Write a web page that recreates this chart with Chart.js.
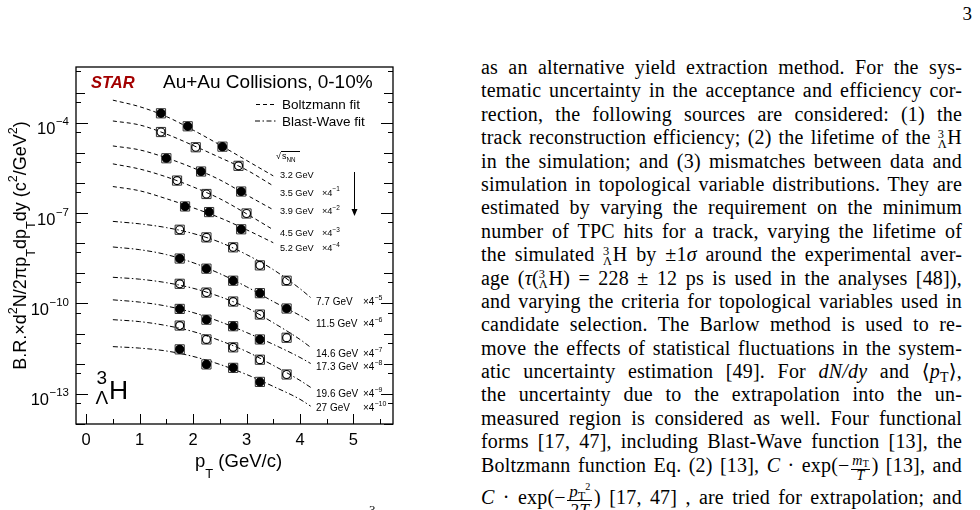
<!DOCTYPE html>
<html>
<head>
<meta charset="utf-8">
<title>Hypertriton pT spectra</title>
<script src="https://cdn.jsdelivr.net/npm/chart.js@4.4.1/dist/chart.umd.min.js"></script>
<style>
  html, body { margin: 0; padding: 0; background: #fff; }
  body { width: 980px; height: 510px; overflow: hidden; position: relative; color: #000; }
  #plot { position: absolute; left: 0; top: 0; }
  .serif { font-family: "Liberation Serif", "DejaVu Serif", serif; }
  #pageno { position: absolute; left: 932px; width: 40px; top: 4px; text-align: right; font-size: 19px; line-height: 19px; }
  #capno { position: absolute; left: 369px; top: 503px; font-size: 13px; line-height: 13px; }
  #col { position: absolute; left: 481px; top: 56px; width: 481px; font-size: 20px; line-height: 23.4px; letter-spacing: 0.2px; }
  #col .ln { height: 23.4px; text-align: justify; text-align-last: justify; }
  #col sub { font-size: 0.7em; vertical-align: -0.25em; line-height: 0; }
  .ss { display: inline-block; font-size: 0.62em; line-height: 0.82em; vertical-align: -0.32em; text-align: center; margin-right: 0.04em; }
  .fr { display: inline-flex; flex-direction: column; align-items: center; font-size: 0.7em; line-height: 0.75; vertical-align: 0.45em; margin: 0 0.1em; }
  .fr .nu { border-bottom: 1px solid #000; padding: 0 0.1em 0.12em; }
  .fr .de { padding-top: 0.12em; }
</style>
</head>
<body>
<canvas id="plot" width="440" height="510"></canvas>
<div id="pageno" class="serif">3</div>
<div id="capno" class="serif">3</div>
<div id="col" class="serif"></div>

<script>
// pT bins (GeV/c) of the measured points
const pt32 = [1.4, 1.9, 2.55];
const pt35 = [1.4, 2.05, 2.85];
const pt39 = [1.5, 2.15, 2.9];
const pt45 = [1.7, 2.25, 3.0];
const pt52 = [1.85, 2.3, 2.9];
const ptBW = [1.75, 2.25, 2.75, 3.25, 3.75];

// B.R. x d2N/(2pi pT dpT dy), already multiplied by 4^-n
const y32 = [2.05e-4, 7.6e-5, 1.6e-5];
const y35 = [4.9e-5, 1.53e-5, 3.7e-6];
const y39 = [6.6e-6, 2.4e-6, 5.2e-7];
const y45 = [1.2e-6, 4.3e-7, 9.7e-8];
const y52 = [1.66e-7, 1.08e-7, 2.9e-8];
const y77 = [2.8e-8, 1.56e-8, 7.3e-9, 1.84e-9, 5.7e-10];
const y115 = [3.1e-9, 1.43e-9, 5.7e-10, 2.2e-10, 6.8e-11];
const y146 = [4.5e-10, 2.3e-10, 1.16e-10, 4.3e-11, 7.3e-12];
const y173 = [6.6e-11, 2.9e-11, 1.76e-11, 6.4e-12];
const y196 = [1.85e-11, 6.4e-12, 3.5e-12, 1.36e-12, 4.4e-13];
const y27 = [3.0e-12, 9.5e-13, 7.3e-13, 2.5e-13];

// fit curves
const fitPtBoltz = [0.5, 1.0, 1.5, 2.0, 2.5, 3.0, 3.5];
const fitPtBW = [0.5, 1.0, 1.5, 2.0, 2.5, 3.0, 3.5, 4.0, 4.2];
const fit32 = [5.6e-4, 3.4e-4, 1.6e-4, 5.7e-5, 1.83e-5, 5.6e-6, 1.72e-6];
const fit35 = [1.14e-4, 8.4e-5, 4.2e-5, 1.76e-5, 7.0e-6, 2.7e-6, 8.0e-7];
const fit39 = [1.69e-5, 1.25e-5, 6.8e-6, 3.16e-6, 1.27e-6, 4.0e-7, 1.29e-7];
const fit45 = [4.3e-6, 2.9e-6, 1.59e-6, 7.4e-7, 3.0e-7, 9.5e-8, 2.8e-8];
const fit52 = [7.6e-7, 5.5e-7, 3.0e-7, 1.5e-7, 7.0e-8, 2.8e-8, 1.04e-8];
const fit77 = [5.3e-8, 4.4e-8, 3.3e-8, 2.1e-8, 1.08e-8, 4.2e-9, 1.33e-9, 3.1e-10, 1.57e-10];
const fit115 = [7.5e-9, 6.1e-9, 4.2e-9, 2.26e-9, 9.8e-10, 3.6e-10, 1.16e-10, 4.0e-11, 2.5e-11];
const fit146 = [7.4e-10, 6.4e-10, 4.9e-10, 3.2e-10, 1.69e-10, 7.3e-11, 2.3e-11, 6.4e-12, 3.5e-12];
const fit173 = [1.32e-10, 1.11e-10, 8.2e-11, 5.0e-11, 2.5e-11, 1.09e-11, 4.4e-12, 1.62e-12, 1.02e-12];
const fit196 = [2.9e-11, 2.5e-11, 1.85e-11, 1.17e-11, 5.9e-12, 2.55e-12, 8.8e-13, 2.8e-13, 1.64e-13];
const fit27 = [3.7e-12, 3.3e-12, 2.65e-12, 1.75e-12, 9.5e-13, 4.4e-13, 1.77e-13, 6.6e-14, 3.9e-14];

// energy labels and their scale factors 4^n
const energies = ['3.2', '3.5', '3.9', '4.5', '5.2', '7.7', '11.5', '14.6', '17.3', '19.6', '27'];
const scalePow = [0, -1, -2, -3, -4, -5, -6, -7, -8, -9, -10];
const labelDecades = [-4, -7, -10, -13];
const xTickValues = [0, 1, 2, 3, 4, 5];

const SANS = '"Liberation Sans", Arial, Helvetica, sans-serif';
const DASH = [4, 3];
const DASHDOT = [5, 2.5, 1.5, 2.5];

const datasets = [];

function xy(xs, ys) {
    return xs.map((x, i) => ({ x, y: ys[i] }));
}

function addPoints(xs, ys, filled) {
    const pts = xy(xs, ys);
    datasets.push({
        data: pts, showLine: false, order: 0,
        pointStyle: 'circle', pointRadius: 4,
        pointBackgroundColor: filled ? '#000' : 'rgba(0,0,0,0)',
        pointBorderColor: '#000', pointBorderWidth: 1.2
    });
    // systematic boxes
    datasets.push({
        data: pts, showLine: false, order: 1,
        pointStyle: 'rect', pointRadius: 6.5,
        pointBackgroundColor: 'rgba(0,0,0,0)',
        pointBorderColor: '#333', pointBorderWidth: 1
    });
}

function addFit(xs, ys, dash) {
    datasets.push({
        data: xy(xs, ys), showLine: true, order: 2,
        borderColor: '#000', borderWidth: 1, borderDash: dash,
        pointRadius: 0, cubicInterpolationMode: 'monotone', fill: false
    });
}

addPoints(pt32, y32, true);
addPoints(pt35, y35, false);
addPoints(pt39, y39, true);
addPoints(pt45, y45, false);
addPoints(pt52, y52, true);
addPoints(ptBW, y77, false);
addPoints(ptBW, y115, true);
addPoints(ptBW, y146, false);
addPoints(ptBW.slice(0, 4), y173, true);
addPoints(ptBW, y196, false);
addPoints(ptBW.slice(0, 4), y27, true);

[fit32, fit35, fit39, fit45, fit52].forEach(f => addFit(fitPtBoltz, f, DASH));
[fit77, fit115, fit146, fit173, fit196, fit27].forEach(f => addFit(fitPtBW, f, DASHDOT));

// text with ROOT-like super/subscripts, parts = [[text, '' | 'sup' | 'sub'], ...]
function rich(ctx, parts, x, y, size, align, subDrop) {
    const items = [];
    let w = 0;
    parts.forEach(([t, k]) => {
        const fs = k ? size * 0.7 : size;
        ctx.font = fs + 'px ' + SANS;
        const dy = k === 'sup' ? -size * 0.5 : k === 'sub' ? size * (subDrop || 0.4) : 0;
        items.push({ t, fs, dy, x: w });
        w += ctx.measureText(t).width;
    });
    const x0 = align === 'right' ? x - w : align === 'center' ? x - w / 2 : x;
    items.forEach(it => {
        ctx.font = it.fs + 'px ' + SANS;
        ctx.fillText(it.t, x0 + it.x, y + it.dy);
    });
    return w;
}

function supStr(n) {
    return n < 0 ? '\u2212' + (-n) : String(n);
}

const decor = {
    id: 'decor',
    afterDraw(chart) {
        const { ctx, chartArea: a } = chart;
        const xs = chart.scales.x, ys = chart.scales.y;
        ctx.save();
        ctx.fillStyle = '#000';
        ctx.strokeStyle = '#000';
        ctx.textBaseline = 'alphabetic';
        ctx.textAlign = 'left';

        // frame
        ctx.lineWidth = 1.3;
        ctx.strokeRect(a.left, a.top, a.right - a.left, a.bottom - a.top);

        // ticks
        ctx.lineWidth = 1;
        ctx.beginPath();
        for (let v = 0; v <= 5.5; v += 0.5) {
            const px = Math.round(xs.getPixelForValue(v)) + 0.5;
            const len = Number.isInteger(v) ? 10 : 5;
            ctx.moveTo(px, a.bottom);
            ctx.lineTo(px, a.bottom - len);
        }
        for (let n = -14; n <= -2; n++) {
            [[Math.pow(10, n), labelDecades.includes(n) ? 12 : 9], [5 * Math.pow(10, n), 5]].forEach(([v, len]) => {
                if (v < ys.min || v > ys.max) return;
                const py = Math.round(ys.getPixelForValue(v)) + 0.5;
                ctx.moveTo(a.left, py); ctx.lineTo(a.left + len, py);
                ctx.moveTo(a.right, py); ctx.lineTo(a.right - len, py);
            });
        }
        ctx.stroke();

        // y tick labels 10^n
        labelDecades.forEach(n => {
            const py = ys.getPixelForValue(Math.pow(10, n));
            ctx.font = '11.5px ' + SANS;
            const sw = ctx.measureText(supStr(n)).width;
            ctx.fillText(supStr(n), 69 - sw, py + 2.5);
            ctx.font = '16.5px ' + SANS;
            const tw = ctx.measureText('10').width;
            ctx.fillText('10', 69 - sw - tw - 0.5, py + 11.5);
        });

        // axis titles
        rich(ctx, [['p', ''], ['T', 'sub'], [' (GeV/c)', '']], 195, 466.5, 18.5, 'left', 0.6);
        ctx.save();
        ctx.translate(26, (a.top + a.bottom) / 2);
        ctx.rotate(-Math.PI / 2);
        rich(ctx, [['B.R.\u00d7d', ''], ['2', 'sup'], ['N/2\u03c0p', ''], ['T', 'sub'], ['dp', ''], ['T', 'sub'],
                   ['dy (c', ''], ['2', 'sup'], ['/GeV', ''], ['2', 'sup'], [')', '']], 0, 0, 18, 'center', 0.5);
        ctx.restore();

        // header
        ctx.font = 'italic bold 16.5px ' + SANS;
        ctx.fillStyle = '#a30000';
        ctx.fillText('STAR', 91, 88.3);
        ctx.fillStyle = '#000';
        ctx.font = '19px ' + SANS;
        ctx.fillText('Au+Au Collisions, 0-10%', 163, 88.3);

        // legend
        ctx.font = '13.5px ' + SANS;
        ctx.fillText('Boltzmann fit', 282, 109);
        ctx.fillText('Blast-Wave fit', 282, 125.5);
        ctx.setLineDash(DASH);
        ctx.beginPath(); ctx.moveTo(256, 104.5); ctx.lineTo(277, 104.5); ctx.stroke();
        ctx.setLineDash(DASHDOT);
        ctx.beginPath(); ctx.moveTo(255, 121); ctx.lineTo(278, 121); ctx.stroke();
        ctx.setLineDash([]);

        // sqrt(s_NN)
        ctx.font = '9px ' + SANS;
        ctx.fillText('\u221a', 276, 159);
        ctx.beginPath(); ctx.moveTo(281, 151.5); ctx.lineTo(300, 151.5); ctx.stroke();
        rich(ctx, [['s', ''], ['NN', 'sub']], 282, 158.5, 9, 'left', 0.35);

        // energy labels
        const upperY = [175, 192.5, 211, 233, 248];
        const lowerY = [301.5, 323.5, 353, 366.5, 393.5, 407];
        energies.forEach((e, i) => {
            const upper = i < 5;
            const size = upper ? 9.2 : 10;
            const cy = upper ? upperY[i] : lowerY[i - 5];
            const lx = upper ? 280 : 316;
            const sx = upper ? 322 : 363;
            const base = cy + size * 0.36;
            rich(ctx, [[e + ' GeV', '']], lx, base, size, 'left');
            if (scalePow[i] !== 0) {
                rich(ctx, [['\u00d74', ''], [supStr(scalePow[i]), 'sup']], sx, base, size, 'left');
            }
        });

        // arrow
        ctx.beginPath(); ctx.moveTo(354.5, 172); ctx.lineTo(354.5, 211); ctx.stroke();
        ctx.beginPath(); ctx.moveTo(351.5, 209); ctx.lineTo(357.5, 209); ctx.lineTo(354.5, 216); ctx.closePath(); ctx.fill();

        // hypertriton symbol
        ctx.font = '19px ' + SANS;
        ctx.fillText('3', 96.5, 384);
        ctx.fillText('\u039b', 95.5, 403.5);
        ctx.font = '26.5px ' + SANS;
        ctx.fillText('H', 109, 398.5);

        ctx.restore();
    }
};

new Chart(document.getElementById('plot'), {
    type: 'scatter',
    data: { datasets },
    options: {
        responsive: false,
        animation: false,
        events: [],
        layout: { padding: { top: 67, right: 47, left: 0, bottom: 0 } },
        plugins: { legend: { display: false }, tooltip: { enabled: false } },
        scales: {
            x: {
                type: 'linear', min: -0.19, max: 5.74,
                grid: { display: false, drawTicks: false },
                border: { display: false },
                afterBuildTicks: s => { s.ticks = xTickValues.map(v => ({ value: v })); },
                afterFit: s => { s.height = 86; },
                ticks: { color: '#000', font: { family: SANS, size: 16.5 }, padding: 7, maxRotation: 0, autoSkip: false }
            },
            y: {
                type: 'logarithmic', min: 1.0e-14, max: 7.05e-3,
                grid: { display: false },
                border: { display: false },
                ticks: { display: false },
                afterFit: s => { s.width = 76; }
            }
        }
    },
    plugins: [decor]
});

// right-hand text column
const HY = '<span class="ss">3<br>\u039b</span>H';
const lines = [
    'as an alternative yield extraction method. For the sys-',
    'tematic uncertainty in the acceptance and efficiency cor-',
    'rection, the following sources are considered: (1) the',
    'track reconstruction efficiency; (2) the lifetime of the ' + HY,
    'in the simulation; and (3) mismatches between data and',
    'simulation in topological variable distributions. They are',
    'estimated by varying the requirement on the minimum',
    'number of TPC hits for a track, varying the lifetime of',
    'the simulated ' + HY + ' by \u00b11<i>\u03c3</i> around the experimental aver-',
    'age (<i>\u03c4</i>(' + HY + ') = 228 \u00b1 12 ps is used in the analyses [48]),',
    'and varying the criteria for topological variables used in',
    'candidate selection. The Barlow method is used to re-',
    'move the effects of statistical fluctuations in the system-',
    'atic uncertainty estimation [49]. For <i>dN/dy</i> and \u27e8<i>p</i><sub>T</sub>\u27e9,',
    'the uncertainty due to the extrapolation into the un-',
    'measured region is considered as well. Four functional',
    'forms [17, 47], including Blast-Wave function [13], the',
    'Boltzmann function Eq. (2) [13], <i>C</i> \u00b7 exp(\u2212<span class="fr"><span class="nu"><i>m</i><sub>T</sub></span><span class="de"><i>T</i></span></span>) [13], and',
    '<i>C</i> \u00b7 exp(\u2212<span class="fr" style="font-size:0.85em"><span class="nu"><i>p</i><sub>T</sub><sup style="font-size:0.6em">2</sup></span><span class="de">2<i>T</i></span></span>) [17, 47] , are tried for extrapolation; and'
];
const col = document.getElementById('col');
lines.forEach((html, i) => {
    const div = document.createElement('div');
    div.className = 'ln';
    if (i === lines.length - 1) div.style.marginTop = '6px';
    div.innerHTML = html;
    col.appendChild(div);
});
</script>
</body>
</html>
